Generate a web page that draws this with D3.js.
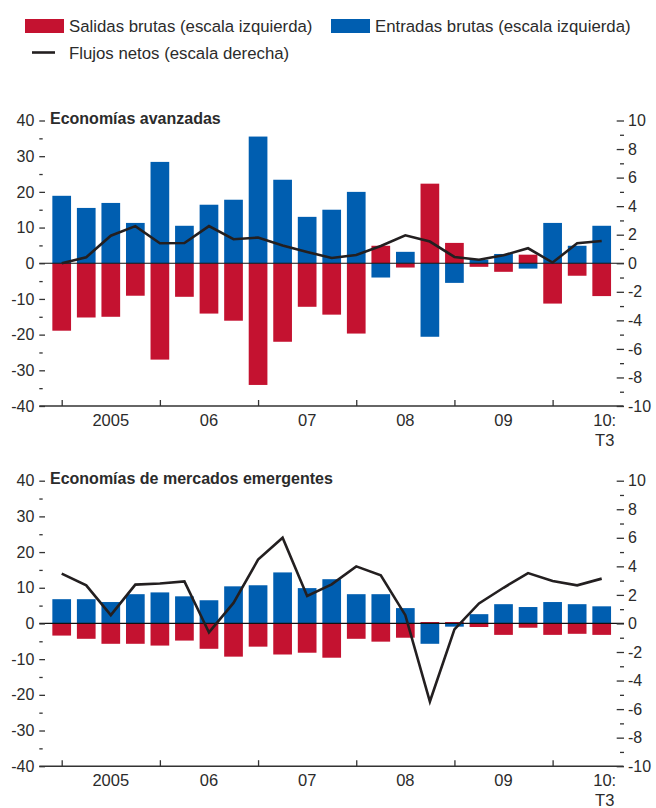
<!DOCTYPE html>
<html>
<head>
<meta charset="utf-8">
<script src="https://cdn.jsdelivr.net/npm/d3@7"></script>
<style>
  html, body { margin: 0; padding: 0; background: #fff; }
  svg { display: block; }
  text { font-family: "Liberation Sans", Arial, sans-serif; fill: #2b2b2b; }
  .tick line { stroke: #333; stroke-width: 1.3; }
</style>
</head>
<body>
<svg id="chart" width="656" height="808"></svg>
<script>
// Quarters 2005 T1 – 2010 T3
const quarters = [
  "2005T1","2005T2","2005T3","2005T4",
  "2006T1","2006T2","2006T3","2006T4",
  "2007T1","2007T2","2007T3","2007T4",
  "2008T1","2008T2","2008T3","2008T4",
  "2009T1","2009T2","2009T3","2009T4",
  "2010T1","2010T2","2010T3"
];

// Economías avanzadas
const advSalidas  = [-18.9,-15.2,-15.0,-9.1,-27.0,-9.4,-14.1,-16.1,-34.1,-22.0,-12.2,-14.4,-19.7,4.9,-1.2,22.3,5.7,-1.0,-2.4,2.4,-11.3,-3.5,-9.2];
const advEntradas = [18.9,15.5,16.9,11.3,28.4,10.5,16.4,17.8,35.5,23.4,13.0,15.0,20.0,-4.0,3.2,-20.6,-5.5,1.0,2.6,-1.5,11.3,4.9,10.5];
const advNetos    = [0.0,0.42,1.93,2.6,1.4,1.42,2.6,1.68,1.8,1.25,0.79,0.37,0.58,1.21,1.96,1.52,0.44,0.25,0.56,1.05,0.05,1.40,1.56];

// Economías de mercados emergentes
const emSalidas  = [-3.4,-4.3,-5.7,-5.7,-6.2,-4.8,-7.1,-9.3,-6.5,-8.7,-8.2,-9.6,-4.3,-5.1,-4.0,0.4,0.4,-1.0,-3.2,-1.2,-3.2,-2.9,-3.2];
const emEntradas = [6.8,6.8,6.0,8.2,8.7,7.6,6.5,10.4,10.7,14.3,9.9,12.4,8.2,8.2,4.3,-5.7,-0.9,2.6,5.4,4.6,6.0,5.4,4.8];
const emNetos    = [3.49,2.67,0.58,2.72,2.8,2.95,-0.63,1.44,4.47,6.0,1.93,2.74,4.0,3.37,0.58,-5.47,-0.42,1.4,2.5,3.53,2.98,2.67,3.14];

// Axis ticks and labels
const leftMajor  = [-40,-30,-20,-10,0,10,20,30,40];
const leftMinor  = [-35,-25,-15,-5,5,15,25,35];
const rightMajor = [-10,-8,-6,-4,-2,0,2,4,6,8,10];
const rightMinor = [-9,-7,-5,-3,-1,1,3,5,7,9];
const yearStarts = ["2005T1","2006T1","2007T1","2008T1","2009T1","2010T1"];
const yearLabels = ["2005","06","07","08","09","10:"];
const lastLabel  = "T3";

const legendItems = [
  {label: "Salidas brutas (escala izquierda)", kind: "bar", color: "#c41230"},
  {label: "Entradas brutas (escala izquierda)", kind: "bar", color: "#005eb0"},
  {label: "Flujos netos (escala derecha)", kind: "line", color: "#231f20"}
];

const panels = [
  {title: "Economías avanzadas", salidas: advSalidas, entradas: advEntradas, netos: advNetos, top: 120.5},
  {title: "Economías de mercados emergentes", salidas: emSalidas, entradas: emEntradas, netos: emNetos, top: 480.7}
];

const RED = "#c41230", BLUE = "#005eb0", INK = "#231f20";
const svg = d3.select("#chart");

const axisLeftX = 39.3, axisRightX = 624;
const x = d3.scalePoint().domain(quarters).range([61.7, 601.7]);
const step = x.step();
const barW = 18.7;
const panelH = 285.5;
// Plain hyphen for negative tick labels
const fmt = d => String(d);

// Legend
const lg = svg.append("g");
const legendPos = [{x: 25, y: 19}, {x: 331, y: 19}, {x: 25, y: 46}];
legendItems.forEach((it, i) => {
  const p = legendPos[i];
  if (it.kind === "bar") {
    lg.append("rect").attr("x", p.x).attr("y", p.y).attr("width", 39).attr("height", 14).attr("fill", it.color);
  } else {
    lg.append("line").attr("x1", p.x + 7).attr("x2", p.x + 30).attr("y1", p.y + 6.5).attr("y2", p.y + 6.5)
      .attr("stroke", it.color).attr("stroke-width", 2.6);
  }
  lg.append("text").attr("x", p.x + 44).attr("y", p.y + 13).attr("font-size", 16.8).text(it.label);
});

panels.forEach(pn => {
  const g = svg.append("g");
  const yL = d3.scaleLinear().domain([-40, 40]).range([pn.top + panelH, pn.top]);
  const yR = d3.scaleLinear().domain([-10, 10]).range([pn.top + panelH, pn.top]);

  // Bars: outflows and inflows drawn from zero
  g.append("g").selectAll("rect").data(pn.salidas).join("rect")
    .attr("x", (d, i) => x(quarters[i]) - barW / 2)
    .attr("width", barW)
    .attr("y", d => yL(Math.max(0, d)))
    .attr("height", d => Math.abs(yL(d) - yL(0)))
    .attr("fill", RED);
  g.append("g").selectAll("rect").data(pn.entradas).join("rect")
    .attr("x", (d, i) => x(quarters[i]) - barW / 2)
    .attr("width", barW)
    .attr("y", d => yL(Math.max(0, d)))
    .attr("height", d => Math.abs(yL(d) - yL(0)))
    .attr("fill", BLUE);

  // Zero line
  g.append("line").attr("x1", axisLeftX).attr("x2", axisRightX)
    .attr("y1", yL(0)).attr("y2", yL(0)).attr("stroke", "#111").attr("stroke-width", 1.2);

  // Bottom axis line and year ticks
  g.append("line").attr("x1", axisLeftX).attr("x2", axisRightX - 0.5)
    .attr("y1", yL(-40)).attr("y2", yL(-40)).attr("stroke", "#333").attr("stroke-width", 1.4);
  const xa = g.append("g").attr("transform", `translate(0,${yL(-40)})`)
    .call(d3.axisBottom(x).tickValues(yearStarts).tickSize(-6).tickFormat(""));
  xa.select(".domain").remove();

  yearStarts.forEach((q, i) => {
    const isLast = i === yearStarts.length - 1;
    const cx = isLast ? x(quarters[quarters.length - 1]) + 3 : x(q) + 2 * step;
    g.append("text").attr("x", cx).attr("y", yL(-40) + 20).attr("text-anchor", "middle")
      .attr("font-size", 16.5).text(yearLabels[i]);
    if (isLast) {
      g.append("text").attr("x", cx).attr("y", yL(-40) + 39.5).attr("text-anchor", "middle")
        .attr("font-size", 16.5).text(lastLabel);
    }
  });

  // Left axis (gross flows)
  const la = g.append("g").attr("transform", `translate(${axisLeftX + 5.7},0)`)
    .call(d3.axisLeft(yL).tickValues(leftMajor).tickSize(5.7).tickPadding(5).tickFormat(fmt));
  la.select(".domain").remove();
  la.selectAll("text").attr("font-size", 16).style("font-family", "'Liberation Sans', Arial, sans-serif").attr("fill", "#2b2b2b");
  const lm = g.append("g").attr("transform", `translate(${axisLeftX},0)`)
    .call(d3.axisRight(yL).tickValues(leftMinor).tickSize(3.4).tickFormat(""));
  lm.select(".domain").remove();

  // Right axis (net flows)
  const ra = g.append("g").attr("transform", `translate(${axisRightX - 7.3},0)`)
    .call(d3.axisRight(yR).tickValues(rightMajor).tickSize(7.3).tickPadding(4).tickFormat(fmt));
  ra.select(".domain").remove();
  ra.selectAll("text").attr("font-size", 16).style("font-family", "'Liberation Sans', Arial, sans-serif").attr("fill", "#2b2b2b");
  const rm = g.append("g").attr("transform", `translate(${axisRightX},0)`)
    .call(d3.axisLeft(yR).tickValues(rightMinor).tickSize(4).tickFormat(""));
  rm.select(".domain").remove();

  // Net flows line
  g.append("path").datum(pn.netos)
    .attr("fill", "none").attr("stroke", INK).attr("stroke-width", 2.6).attr("stroke-linejoin", "miter")
    .attr("d", d3.line().x((d, i) => x(quarters[i])).y(d => yR(d)));

  // Panel title
  g.append("text").attr("x", 50).attr("y", pn.top + 3.2).attr("font-size", 16)
    .attr("font-weight", "bold").text(pn.title);
});
</script>
</body>
</html>
